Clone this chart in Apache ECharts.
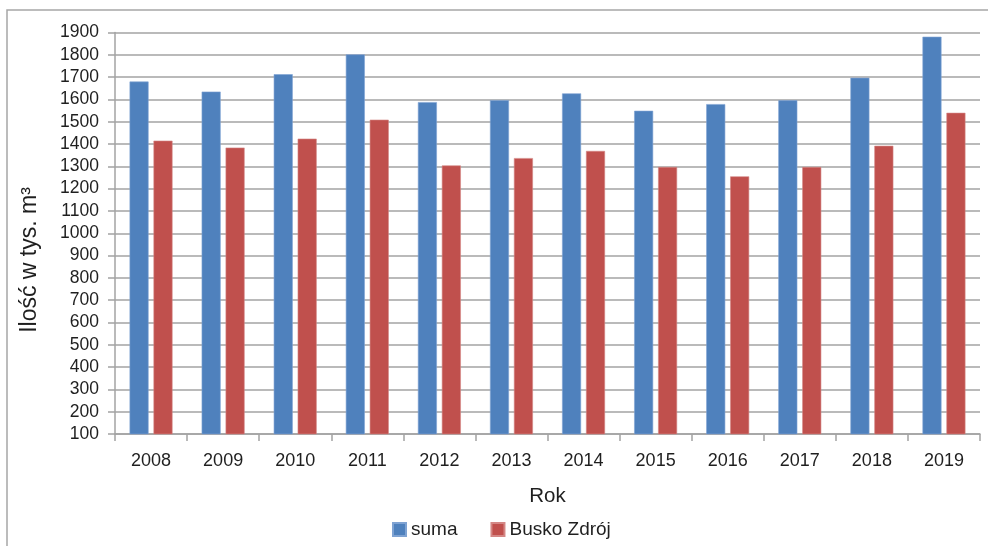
<!DOCTYPE html>
<html>
<head>
<meta charset="utf-8">
<script src="https://cdn.jsdelivr.net/npm/echarts@6/dist/echarts.min.js"></script>
<style>
  html, body { margin: 0; padding: 0; background: #ffffff; }
  #chart { width: 988px; height: 546px; }
</style>
</head>
<body>
<div id="chart"></div>
<script>
// Years on the category axis
const years = ['2008', '2009', '2010', '2011', '2012', '2013', '2014', '2015', '2016', '2017', '2018', '2019'];
// Total volume (thousand m³)
const suma = [1680, 1635, 1713, 1802, 1588, 1597, 1627, 1549, 1579, 1596, 1697, 1881];
// Volume for Busko Zdrój (thousand m³)
const busko = [1415, 1384, 1424, 1509, 1304, 1337, 1369, 1297, 1255, 1297, 1392, 1540];
// Series names shown in the legend
const seriesNames = ['suma', 'Busko Zdrój'];

const FONT = '"Liberation Sans", Arial, sans-serif';
const GRID_COLOR = '#a3a3a3';
const TEXT_COLOR = '#1f1f1f';

const chart = echarts.init(document.getElementById('chart'), null, { renderer: 'canvas' });

chart.setOption({
  animation: false,
  backgroundColor: '#ffffff',
  textStyle: { fontFamily: FONT },
  graphic: [
    {
      type: 'rect',
      shape: { x: 7, y: 10, width: 1000, height: 560 },
      style: { fill: 'none', stroke: '#a6a6a6', lineWidth: 1.5 },
      silent: true
    },
    {
      type: 'text',
      x: 30,
      y: 260,
      rotation: Math.PI / 2,
      style: {
        text: 'Ilość w tys. m³',
        font: '23px ' + FONT,
        fill: TEXT_COLOR,
        align: 'center',
        verticalAlign: 'middle'
      }
    }
  ],
  legend: {
    data: seriesNames,
    left: 387,
    top: 515,
    itemWidth: 13,
    itemHeight: 13,
    itemGap: 33,
    icon: 'rect',
    textStyle: { fontSize: 19, color: TEXT_COLOR, fontFamily: FONT, padding: [0, 0, 0, 0] }
  },
  grid: { left: 115, right: 8, top: 32.5, bottom: 112, containLabel: false },
  xAxis: {
    type: 'category',
    data: years,
    name: 'Rok',
    nameLocation: 'middle',
    nameGap: 52,
    nameTextStyle: { fontSize: 20.5, color: TEXT_COLOR, fontFamily: FONT },
    axisLine: { lineStyle: { color: GRID_COLOR, width: 1.5 } },
    axisTick: { show: true, alignWithLabel: false, length: 7, lineStyle: { color: GRID_COLOR, width: 1.5 } },
    axisLabel: { fontSize: 18, color: TEXT_COLOR, margin: 18, fontFamily: FONT },
    splitLine: { show: false }
  },
  yAxis: {
    type: 'value',
    min: 100,
    max: 1900,
    interval: 100,
    axisLine: { show: true, lineStyle: { color: GRID_COLOR, width: 1.5 } },
    axisTick: { show: true, length: 7, lineStyle: { color: GRID_COLOR, width: 1.5 } },
    axisLabel: {
      fontSize: 17.5,
      color: TEXT_COLOR,
      margin: 16,
      fontFamily: FONT,
      formatter: (v) => String(v)
    },
    splitLine: { show: true, lineStyle: { color: GRID_COLOR, width: 1.5 } }
  },
  series: [
    {
      name: seriesNames[0],
      type: 'bar',
      data: suma,
      barWidth: 19,
      barGap: '26%',
      itemStyle: { color: '#4F81BD', borderColor: '#7fa3d3', borderWidth: 0.6 }
    },
    {
      name: seriesNames[1],
      type: 'bar',
      data: busko,
      barWidth: 19,
      itemStyle: { color: '#C0504D', borderColor: '#d48785', borderWidth: 0.6 }
    }
  ]
});
</script>
</body>
</html>
